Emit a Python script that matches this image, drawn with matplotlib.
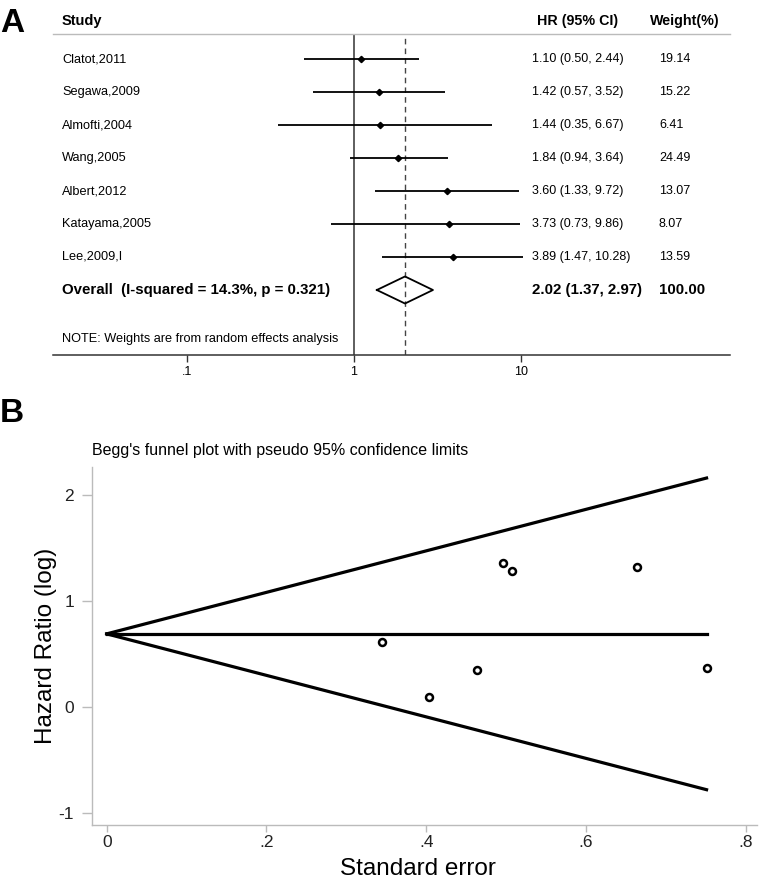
import numpy as np
import matplotlib
matplotlib.use('Agg')
import matplotlib.pyplot as plt

plt.rcParams['font.family'] = ['Liberation Sans', 'DejaVu Sans']

# forest plot data
studies = ['Clatot,2011', 'Segawa,2009', 'Almofti,2004', 'Wang,2005',
           'Albert,2012', 'Katayama,2005', 'Lee,2009,I']
hr = [1.10, 1.42, 1.44, 1.84, 3.60, 3.73, 3.89]
lo = [0.50, 0.57, 0.35, 0.94, 1.33, 0.73, 1.47]
hi = [2.44, 3.52, 6.67, 3.64, 9.72, 9.86, 10.28]
weights = ['19.14', '15.22', '6.41', '24.49', '13.07', '8.07', '13.59']
overall = [2.02, 1.37, 2.97]
overall_label = 'Overall  (I-squared = 14.3%, p = 0.321)'
overall_weight = '100.00'
forest_ticks = [0.1, 1, 10]
forest_ticklabels = ['.1', '1', '10']

# funnel plot data (standard error, log hazard ratio)
se = [0.345, 0.404, 0.464, 0.752, 0.496, 0.507, 0.664]
loghr = [0.61, 0.095, 0.351, 0.365, 1.358, 1.281, 1.316]
funnel_se = [0, 0.751]
funnel_mid = [0.69, 0.69]
funnel_up = [0.69, 2.16]
funnel_low = [0.69, -0.78]

fig = plt.figure(figsize=(7.6, 8.83), dpi=100)

# ---- panel A ----
ax = fig.add_axes([53/760, 1-355/883, 677/760, 321/883])
ax.set_xscale('log')
ax.set_xlim(10**((53-354)/167), 10**((730-354)/167))
ax.set_ylim(8.97, -0.758)
ax.axvline(1, color='#333333', lw=1.1)
ax.axvline(overall[0], color='#444444', lw=1.0, ls=(0, (4, 3)))
yt = ax.get_yaxis_transform()
for i in range(len(studies)):
    ax.plot([lo[i], hi[i]], [i, i], color='black', lw=1.3, solid_capstyle='butt')
    ax.plot(hr[i], i, marker='D', color='black', ms=3.2)
    ax.text(0.0133, i, studies[i], transform=yt, va='center', fontsize=9.2)
    ax.text(0.7075, i, f'{hr[i]:.2f} ({lo[i]:.2f}, {hi[i]:.2f})',
            transform=yt, va='center', fontsize=9)
    ax.text(0.895, i, weights[i], transform=yt, va='center', fontsize=9)

# pooled estimate diamond
yo = len(studies)
dx = [overall[1], overall[0], overall[2], overall[0], overall[1]]
dy = [yo, yo - 0.41, yo, yo + 0.41, yo]
ax.plot(dx, dy, color='black', lw=1.3)
ax.text(0.0133, yo, overall_label, transform=yt, va='center', fontsize=10.8, fontweight='bold')
ax.text(0.7075, yo, f'{overall[0]:.2f} ({overall[1]:.2f}, {overall[2]:.2f})',
        transform=yt, va='center', fontsize=10.8, fontweight='bold')
ax.text(0.895, yo, overall_weight, transform=yt, va='center', fontsize=10.8, fontweight='bold')
ax.text(0.0133, 8.48, 'NOTE: Weights are from random effects analysis', transform=yt,
        va='center', fontsize=9.2)

ax.text(0.0133, -1.152, 'Study', transform=yt, va='center', fontsize=10.5, fontweight='bold')
ax.text(0.715, -1.152, 'HR (95% CI)', transform=yt, va='center', fontsize=10.3, fontweight='bold')
ax.text(0.882, -1.152, 'Weight(%)', transform=yt, va='center', fontsize=10.3, fontweight='bold')

for s in ['left', 'right']:
    ax.spines[s].set_visible(False)
ax.spines['top'].set_color('#bbbbbb')
ax.spines['top'].set_linewidth(1.0)
ax.spines['bottom'].set_color('#333333')
ax.spines['bottom'].set_linewidth(1.1)
ax.set_yticks([])
ax.set_xticks(forest_ticks)
ax.set_xticklabels(forest_ticklabels)
ax.xaxis.set_minor_locator(matplotlib.ticker.NullLocator())
ax.tick_params(axis='x', length=5, width=1, color='#333333', labelsize=9, pad=3)

fig.text(0.0, 1-8/883, 'A', fontsize=24, fontweight='bold', va='top', ha='left')

# ---- panel B ----
bx = fig.add_axes([92/760, 1-825/883, 665/760, 358/883])
bx.plot(funnel_se, funnel_up, color='black', lw=2.3)
bx.plot(funnel_se, funnel_mid, color='black', lw=2.3)
bx.plot(funnel_se, funnel_low, color='black', lw=2.3)
bx.plot(se, loghr, 'o', mfc='white', mec='black', ms=5, mew=1.8, ls='none')
bx.set_xlim(-14.7/798.75, (757-106.7)/798.75)
bx.set_ylim(-1.113, 2.264)
bx.set_xticks([0, 0.2, 0.4, 0.6, 0.8])
bx.set_xticklabels(['0', '.2', '.4', '.6', '.8'])
bx.set_yticks([-1, 0, 1, 2])
bx.set_yticklabels(['-1', '0', '1', '2'])
for s in ['top', 'right']:
    bx.spines[s].set_visible(False)
for s in ['left', 'bottom']:
    bx.spines[s].set_color('#bbbbbb')
    bx.spines[s].set_linewidth(1.0)
bx.tick_params(axis='x', length=5, width=1, color='#bbbbbb', labelsize=12.5,
               labelcolor='#222222', pad=2)
bx.tick_params(axis='y', length=7.5, width=1, color='#bbbbbb', labelsize=12.5,
               labelcolor='#222222', pad=5.5)
bx.set_xlabel('Standard error', fontsize=17.5, labelpad=6)
bx.xaxis.label.set_x(0.4895)
bx.set_ylabel('Hazard Ratio (log)', fontsize=17.5, labelpad=1)
bx.set_title("Begg's funnel plot with pseudo 95% confidence limits", fontsize=11.5,
             loc='left', pad=9)

fig.text(0.0, 1-398/883, 'B', fontsize=24, fontweight='bold', va='top', ha='left')

fig.savefig('out.png', dpi=100)
